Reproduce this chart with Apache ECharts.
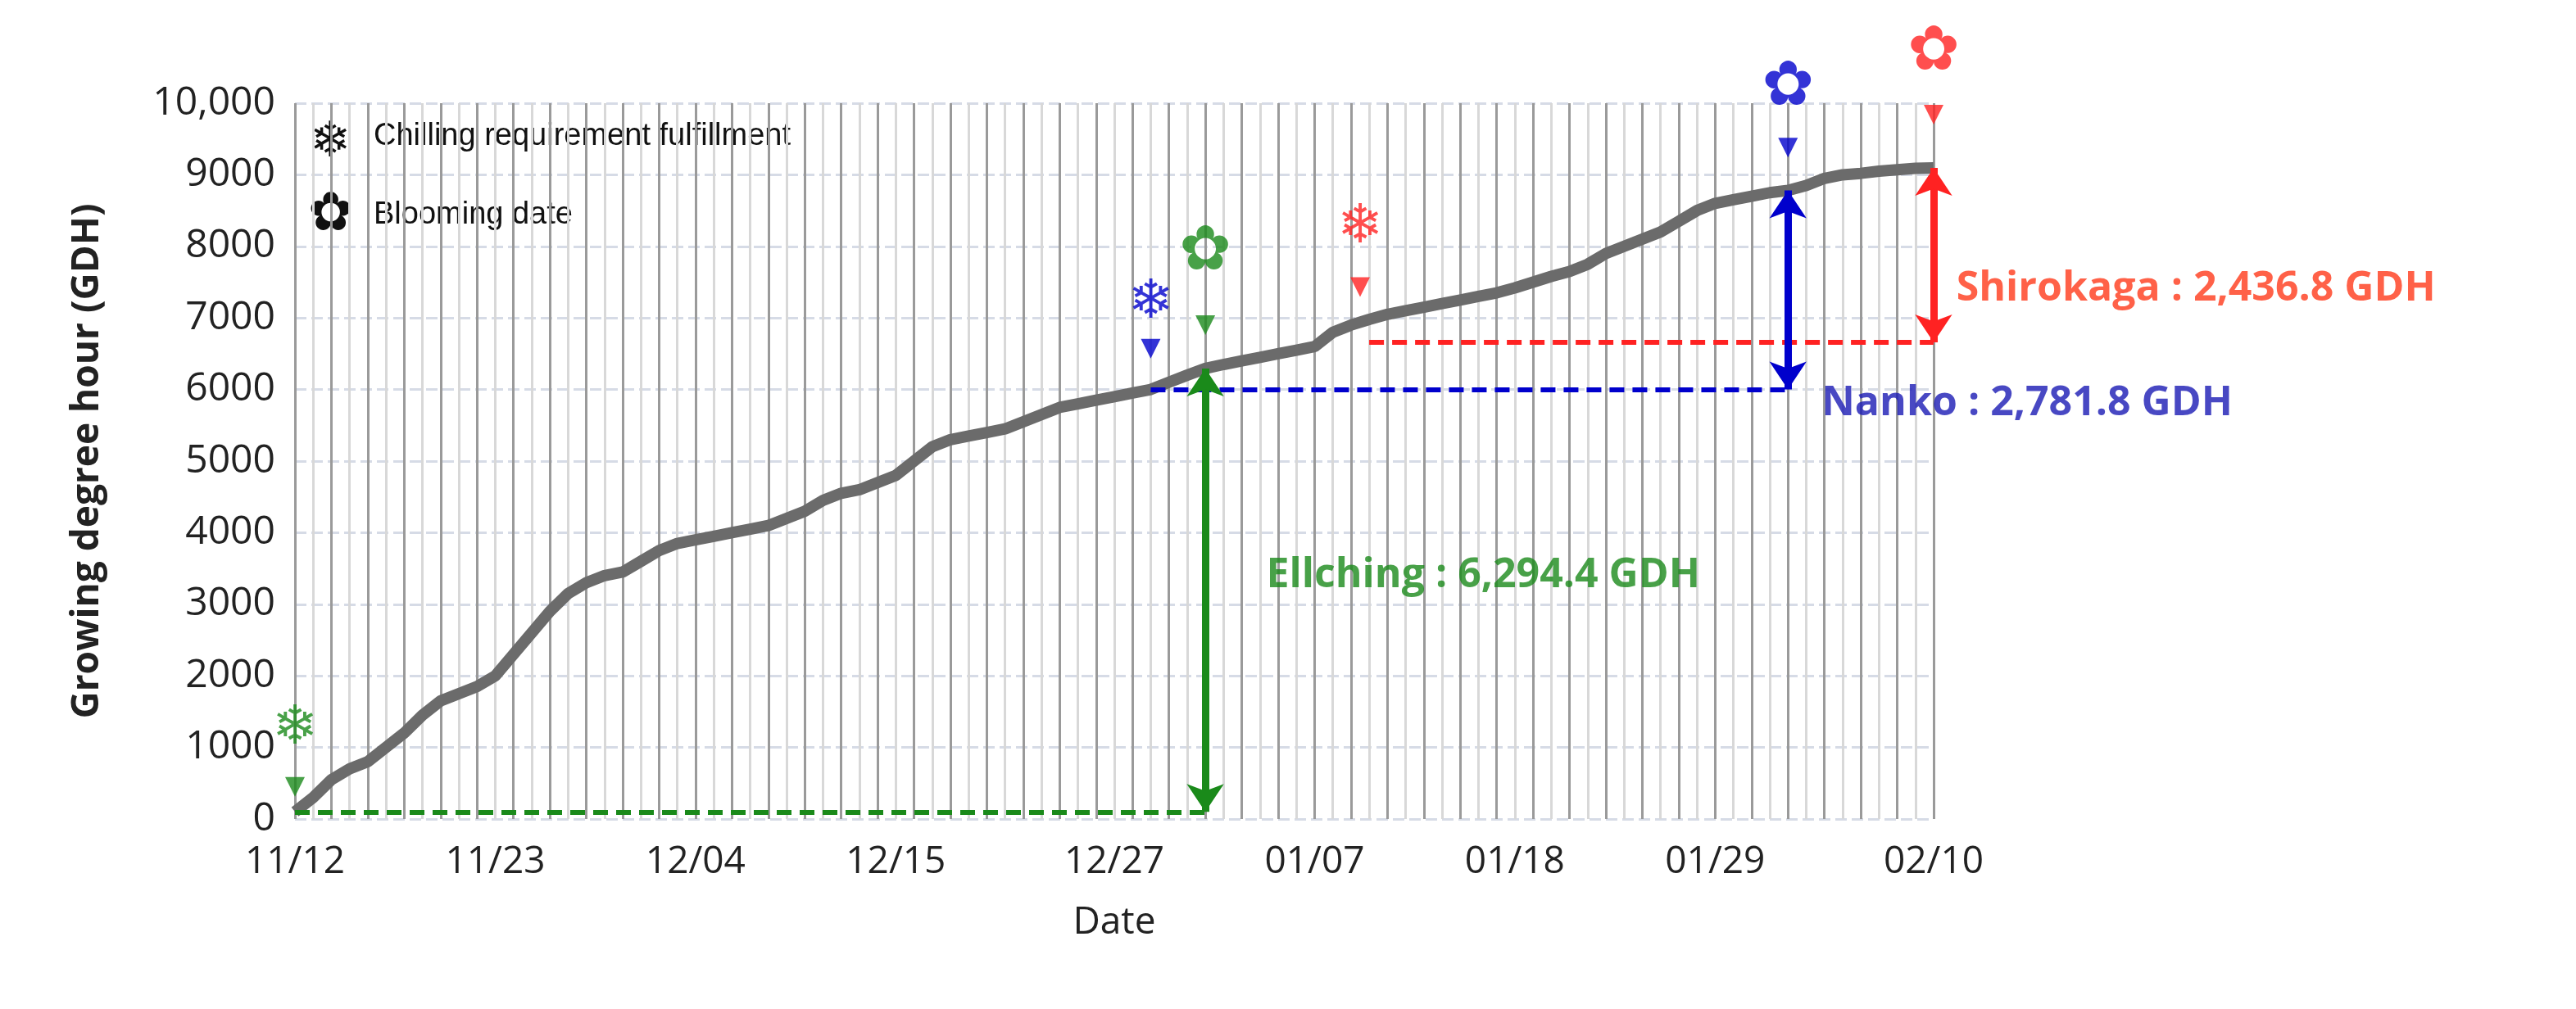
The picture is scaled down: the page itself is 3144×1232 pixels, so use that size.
<!DOCTYPE html>
<html lang="en">
<head>
<meta charset="UTF-8">
<title>GDH</title>
<script src="https://cdn.jsdelivr.net/npm/echarts@6/dist/echarts.min.js"></script>
<style>
    body { margin: 0; background: #fff; }
    #main { width: 3144px; height: 1232px; }
</style>
</head>
<body>
<div id="main"></div>
<script>
    // day index 0 = 11/12, 90 = 02/10
    var tickDays = [0, 11, 22, 33, 45, 56, 67, 78, 90];
    var tickLabels = ['11/12', '11/23', '12/04', '12/15', '12/27', '01/07', '01/18', '01/29', '02/10'];
    var gdh = [100, 300, 550, 700, 800, 1000, 1200, 1450, 1650, 1750,
        1850, 2000, 2300, 2600, 2900, 3150, 3300, 3400, 3450, 3600,
        3750, 3850, 3900, 3950, 4000, 4050, 4100, 4200, 4300, 4450,
        4550, 4600, 4700, 4800, 5000, 5200, 5300, 5350, 5400, 5450,
        5550, 5650, 5750, 5800, 5850, 5900, 5950, 6000, 6100, 6200,
        6294, 6350, 6400, 6450, 6500, 6550, 6600, 6800, 6900, 6980,
        7050, 7100, 7150, 7200, 7250, 7300, 7350, 7420, 7500, 7580,
        7650, 7750, 7900, 8000, 8100, 8200, 8350, 8500, 8600, 8650,
        8700, 8750, 8782, 8850, 8950, 9000, 9020, 9050, 9070, 9090, 9097];

    // markers: [day, triangle y, icon y, colour]
    var chillMarks = [[0, 450, 1250, '#1a8a1a'], [47, 6570, 7200, '#0000cc'], [58.5, 7430, 8250, '#ff2222']];
    var bloomMarks = [[50, 6900, 7900, '#1a8a1a'], [82, 9380, 10200, '#0000cc'], [90, 9840, 10700, '#ff2222']];

    var chart = echarts.init(document.getElementById('main'));
    var lineData = gdh.map(function (v, i) { return [i, v]; });
    var clear = 'rgba(0,0,0,0)';

    function iconSeries(marks, glyph, size) {
        return {
            type: 'scatter', silent: true, clip: false, z: 5,
            symbolSize: 2, itemStyle: { color: clear },
            data: marks.map(function (m) {
                return { value: [m[0], m[2]], label: { color: m[3] } };
            }),
            label: { show: true, position: 'inside', formatter: glyph, fontSize: size, fontFamily: 'DejaVu Sans' }
        };
    }
    function triSeries(marks) {
        return {
            type: 'scatter', silent: true, clip: false, z: 5,
            symbol: 'triangle', symbolRotate: 180, symbolSize: [24, 24],
            data: marks.map(function (m) {
                return { value: [m[0], m[1]], itemStyle: { color: m[3] } };
            })
        };
    }
    function seg(x1, y1, x2, y2, color, dashed, arrows) {
        return [{ coord: [x1, y1], symbol: arrows ? 'arrow' : 'none', symbolSize: 34,
                  lineStyle: { color: color, width: dashed ? 6 : 9, type: dashed ? [18, 10] : 'solid' } },
                { coord: [x2, y2], symbol: arrows ? 'arrow' : 'none', symbolSize: 34 }];
    }
    function textSeries(x, y, text, color) {
        return {
            type: 'scatter', silent: true, clip: false,
            symbolSize: 2, itemStyle: { color: clear },
            data: [[x, y]],
            label: { show: true, position: 'right', distance: 0, formatter: text, color: color,
                fontSize: 50, fontWeight: 'bold', fontFamily: 'Open Sans' }
        };
    }

    var option = {
        backgroundColor: '#fff',
        animation: false,
        grid: { left: 360, right: 784, top: 126, bottom: 232 },
        xAxis: {
            type: 'value', min: 0, max: 90, interval: 1,
            name: 'Date', nameLocation: 'middle', nameGap: 104,
            nameTextStyle: { fontSize: 46, color: '#222', fontFamily: 'Open Sans' },
            axisLine: { show: false }, axisTick: { show: false },
            axisLabel: {
                fontSize: 46, color: '#222', margin: 30, fontFamily: 'Open Sans',
                formatter: function (v) {
                    var k = tickDays.indexOf(v);
                    return k >= 0 ? tickLabels[k] : '';
                }
            },
            splitLine: { show: true, lineStyle: { color: ['#9a9a9a', '#d8d8d8'], width: 3 } }
        },
        yAxis: {
            type: 'value', min: 0, max: 10000, interval: 1000,
            name: 'Growing degree hour (GDH)', nameLocation: 'middle', nameGap: 230,
            nameTextStyle: { fontSize: 46, fontWeight: 'bold', color: '#222', fontFamily: 'Open Sans' },
            axisLine: { show: false }, axisTick: { show: false },
            axisLabel: {
                fontSize: 48, color: '#222', margin: 24, fontFamily: 'Open Sans',
                formatter: function (v) { return v === 10000 ? '10,000' : v; }
            },
            splitLine: { lineStyle: { color: '#d6dbe6', width: 3, type: [14, 6] } }
        },
        graphic: [
            { type: 'text', left: 378, top: 144, style: { text: '❄', fontSize: 60, fill: '#111' } },
            { type: 'text', left: 456, top: 148, style: { text: 'Chilling requirement fulfillment', fontSize: 38, fill: '#111', fontFamily: 'Liberation Sans' } },
            { type: 'text', left: 376, top: 230, style: { text: '✿', fontSize: 66, fill: '#111' } },
            { type: 'text', left: 456, top: 244, style: { text: 'Blooming date', fontSize: 38, fill: '#111', fontFamily: 'Liberation Sans' } }
        ],
        series: [
            {
                type: 'line', data: lineData, symbol: 'none', z: 3,
                lineStyle: { color: '#6b6b6b', width: 14 },
                markLine: {
                    silent: true, label: { show: false }, z: 4,
                    data: [
                        seg(0, 100, 50, 100, '#1a8a1a', true, false),
                        seg(47, 6000, 82, 6000, '#0000cc', true, false),
                        seg(59, 6660, 90, 6660, '#ff2222', true, false),
                        seg(50, 100, 50, 6294, '#1a8a1a', false, true),
                        seg(82, 6000, 82, 8782, '#0000cc', false, true),
                        seg(90, 6660, 90, 9097, '#ff2222', false, true)
                    ]
                }
            },
            triSeries(chillMarks),
            triSeries(bloomMarks),
            iconSeries(chillMarks, '❄', 66),
            iconSeries(bloomMarks, '✿', 76),
            textSeries(53.3, 3400, 'Ellching : 6,294.4 GDH', '#1a8a1a'),
            textSeries(83.8, 5800, 'Nanko : 2,781.8 GDH', '#1a1ab4'),
            textSeries(91.2, 7400, 'Shirokaga : 2,436.8 GDH', '#ff3a1a')
        ]
    };
    chart.setOption(option);
</script>
</body>
</html>
